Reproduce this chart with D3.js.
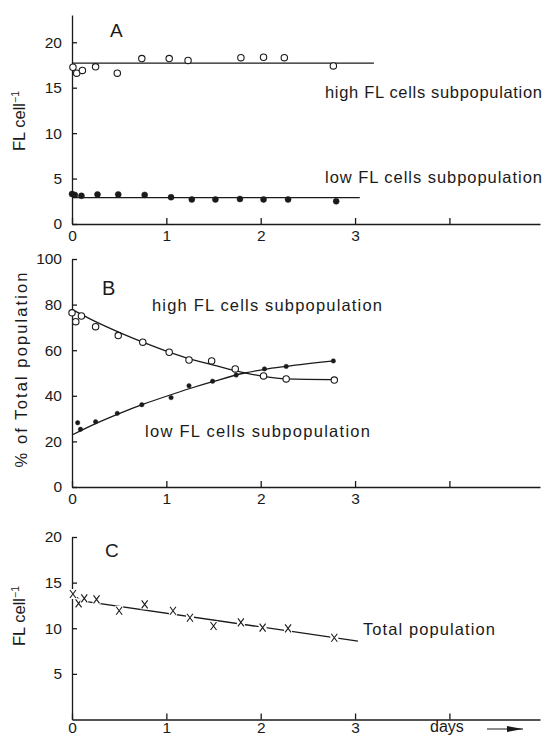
<!DOCTYPE html>
<html>
<head>
<meta charset="utf-8">
<script src="https://cdn.jsdelivr.net/npm/d3@7"></script>
<style>
  body { margin: 0; background: #fff; }
  svg text { font-family: "Liberation Sans", Arial, sans-serif; fill: #1a1a1a; }
  .axis path, .axis line { stroke: #1a1a1a; stroke-width: 1.3px; }
  .axis text { font-size: 15.5px; }
</style>
</head>
<body>
<svg width="545" height="737"></svg>
<script>
'use strict';

// ---- panel A: FL per cell of the two subpopulations ----
const daysAHigh = [0.01, 0.05, 0.11, 0.25, 0.48, 0.74, 1.03, 1.23, 1.79, 2.03, 2.25, 2.77];
const flAHigh   = [17.25, 16.6, 16.9, 17.3, 16.6, 18.2, 18.2, 18.0, 18.3, 18.35, 18.3, 17.4];
const daysALow  = [0, 0.03, 0.1, 0.27, 0.49, 0.77, 1.05, 1.27, 1.52, 1.78, 2.03, 2.29, 2.8];
const flALow    = [3.3, 3.2, 3.1, 3.25, 3.25, 3.2, 2.95, 2.7, 2.7, 2.75, 2.7, 2.7, 2.5];
const fitAHigh  = [[0, 17.7], [3.2, 17.7]];
const fitALow   = [[0, 2.9], [3.05, 2.9]];
const ticksA    = [0, 5, 10, 15, 20];

// ---- panel B: % of total population ----
const daysBHigh = [0, 0.04, 0.1, 0.25, 0.49, 0.75, 1.03, 1.24, 1.48, 1.73, 2.03, 2.27, 2.78];
const pctBHigh  = [76.4, 72.5, 75.0, 70.3, 66.4, 63.5, 59.1, 55.7, 55.3, 51.8, 48.7, 47.4, 46.9];
const daysBLow  = [0.06, 0.09, 0.25, 0.48, 0.74, 1.05, 1.24, 1.49, 1.74, 2.04, 2.27, 2.77];
const pctBLow   = [28.2, 25.3, 28.6, 32.3, 36.1, 39.2, 44.4, 46.4, 49.1, 51.8, 52.9, 55.3];
const fitBHigh  = [[0, 77.9], [0.25, 72.5], [0.5, 67.8], [0.75, 63.5], [1, 59.6], [1.25, 56.2],
                   [1.5, 53.5], [1.83, 50.1], [2.03, 48.5], [2.27, 47.4], [2.78, 47.1]];
const fitBLow   = [[0, 22.8], [0.25, 27.8], [0.5, 32.2], [0.75, 36.2], [1, 39.8], [1.25, 43.2],
                   [1.5, 46.3], [1.83, 50.0], [2.04, 51.6], [2.27, 52.9], [2.78, 55.3]];
const ticksB    = [0, 20, 40, 60, 80, 100];

// ---- panel C: FL per cell, total population ----
const daysC  = [0.01, 0.07, 0.13, 0.26, 0.5, 0.77, 1.07, 1.25, 1.5, 1.79, 2.02, 2.29, 2.78];
const flC    = [13.75, 12.73, 13.27, 13.16, 11.92, 12.62, 11.92, 11.15, 10.25, 10.65, 10.06, 9.99, 8.96];
const fitC   = [[0, 13.75], [0.1, 13.0], [3.03, 8.6]];
const ticksC = [5, 10, 15, 20];

const xTicks = [0, 1, 2, 3, 4];

let svg = d3.select("svg");

let x = d3.scaleLinear().domain([0, 4.96]).range([72, 540]);

let yA = d3.scaleLinear().domain([0, 23]).range([224, 15]);
let yB = d3.scaleLinear().domain([0, 100]).range([487, 259]);
let yC = d3.scaleLinear().domain([0, 20]).range([719.5, 537]);

function drawAxes(y, yTicks, xPad) {
    svg.append("g")
        .attr("class", "axis")
        .attr("transform", "translate(0," + y.range()[0] + ")")
        .call(d3.axisBottom(x).tickValues(xTicks)
            .tickFormat(function(d) { return d < 4 ? d : ""; })
            .tickSizeInner(-6).tickSizeOuter(0).tickPadding(xPad));
    svg.append("g")
        .attr("class", "axis")
        .attr("transform", "translate(" + x(0) + ",0)")
        .call(d3.axisLeft(y).tickValues(yTicks)
            .tickSizeInner(-5).tickSizeOuter(0).tickPadding(10));
}

function fitLine(y, pts, curve) {
    svg.append("path")
        .datum(pts)
        .attr("fill", "none")
        .attr("stroke", "#1a1a1a")
        .attr("stroke-width", 1.3)
        .attr("d", d3.line()
            .x(function(d) { return x(d[0]); })
            .y(function(d) { return y(d[1]); })
            .curve(curve || d3.curveLinear));
}

function circles(y, days, vals, r, filled) {
    svg.append("g")
        .selectAll("circle")
        .data(days)
        .enter().append("circle")
        .attr("cx", function(d) { return x(d); })
        .attr("cy", function(d, i) { return y(vals[i]); })
        .attr("r", r)
        .attr("fill", filled ? "#1a1a1a" : "#fff")
        .attr("stroke", "#1a1a1a")
        .attr("stroke-width", filled ? 0.5 : 1.1);
}

function label(txt, px, py, size, len) {
    let t = svg.append("text")
        .attr("x", px).attr("y", py)
        .style("font-size", size + "px")
        .text(txt);
    if (len) t.attr("textLength", len).attr("lengthAdjust", "spacing");
    return t;
}

function yLabel(txt, sup, px, py, len) {
    let t = svg.append("text")
        .attr("transform", "translate(" + px + "," + py + ") rotate(-90)")
        .attr("text-anchor", "middle")
        .style("font-size", "16.5px");
    t.append("tspan").text(txt);
    if (sup) t.append("tspan").attr("dy", -6).style("font-size", "10.5px").text(sup);
    if (len) t.attr("textLength", len).attr("lengthAdjust", "spacing");
}

// panel A
drawAxes(yA, ticksA, 6);
fitLine(yA, fitAHigh);
fitLine(yA, fitALow);
circles(yA, daysAHigh, flAHigh, 3.2, false);
circles(yA, daysALow, flALow, 3, true);
label("A", 110, 37, 19);
label("high FL cells subpopulation", 325, 98, 16.5, 217);
label("low FL cells subpopulation", 325, 183, 16.5, 217);
yLabel("FL cell", "\u22121", 25, 121);

// panel B
drawAxes(yB, ticksB, 5.5);
fitLine(yB, fitBHigh, d3.curveMonotoneX);
fitLine(yB, fitBLow, d3.curveMonotoneX);
circles(yB, daysBHigh, pctBHigh, 3.2, false);
circles(yB, daysBLow, pctBLow, 2.2, true);
label("B", 102, 295, 20);
label("high FL cells subpopulation", 152, 311, 16.5, 230);
label("low FL cells subpopulation", 145, 437, 16.5, 225);
yLabel("% of Total population", null, 27, 370, 195);

// panel C
drawAxes(yC, ticksC, 2.5);
fitLine(yC, fitC);
let crosses = svg.append("g")
    .selectAll("g")
    .data(daysC)
    .enter().append("g")
    .attr("transform", function(d, i) { return "translate(" + x(d) + "," + yC(flC[i]) + ")"; });
crosses.append("rect")
    .attr("x", -4).attr("y", -5).attr("width", 8).attr("height", 10)
    .attr("fill", "#fff");
crosses.append("path")
    .attr("d", "M-3,-4L3,4M3,-4L-3,4")
    .attr("stroke", "#1a1a1a")
    .attr("stroke-width", 1.1);
label("C", 105, 557, 19);
label("Total population", 363, 635, 16.5, 132);
yLabel("FL cell", "\u22121", 25, 616);

// days arrow
label("days", 430, 732, 16);
svg.append("line")
    .attr("x1", 487).attr("y1", 729).attr("x2", 523).attr("y2", 729)
    .attr("stroke", "#1a1a1a").attr("stroke-width", 1.2);
svg.append("path")
    .attr("d", "M507,726L523,729L507,732Z")
    .attr("fill", "#1a1a1a");
</script>
</body>
</html>
